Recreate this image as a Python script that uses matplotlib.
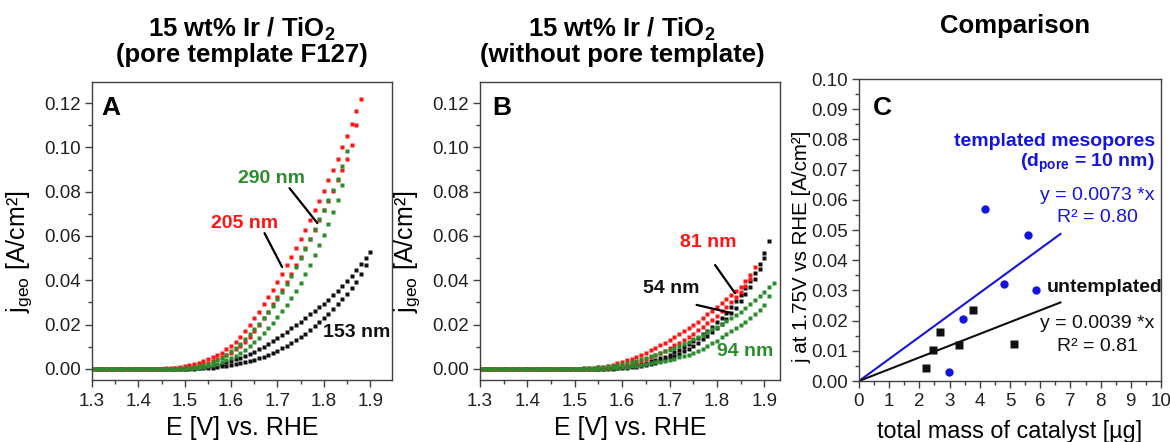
import numpy as np
import matplotlib
matplotlib.use("Agg")
import matplotlib.pyplot as plt
from matplotlib.ticker import MultipleLocator, FormatStrFormatter

plt.rcParams['font.family'] = ['Liberation Sans', 'DejaVu Sans']
plt.rcParams['mathtext.fontset'] = 'custom'
plt.rcParams['mathtext.rm'] = 'Liberation Sans'
plt.rcParams['mathtext.bf'] = 'Liberation Sans:bold'
plt.rcParams['mathtext.it'] = 'Liberation Sans:italic'

RED = '#ff1414'
GREEN = '#2b8c2b'
BLACK = '#101010'
BLUE = '#1414e0'
SPINE = '#404040'

# Potential grid of the sweeps (V vs. RHE), 10 mV steps starting at 1.30 V
E_SWEEP = np.round(1.30 + 0.01 * np.arange(63), 2)

# ---- Panel A: 15 wt% Ir / TiO2 with F127 pore template (current density, A/cm2)
A_205_UP = [
    0.0, 0.0, 0.0, 0.0, 0.0, 0.0, 0.0, 0.0, 0.0, 0.0,
    0.0, 0.0, 0.0, 0.0, 0.0, 0.0001, 0.0002, 0.0003, 0.0005, 0.0008,
    0.0012, 0.0016, 0.0022, 0.0028, 0.0035, 0.0043, 0.0052, 0.0062, 0.0074, 0.0088,
    0.0104, 0.0123, 0.0145, 0.0170, 0.0198, 0.0228, 0.0259, 0.0291, 0.0324, 0.0358,
    0.0393, 0.0429, 0.0467, 0.0506, 0.0546, 0.0587, 0.0629, 0.0672, 0.0716, 0.0760,
    0.0805, 0.0851, 0.0899, 0.0949, 0.1000, 0.1052, 0.1106, 0.1162, 0.1220]
A_205_DOWN = [
    0.0, 0.0, 0.0, 0.0, 0.0, 0.0, 0.0, 0.0, 0.0, 0.0,
    0.0, 0.0, 0.0, 0.0, 0.0, 0.0, 0.0, 0.0001, 0.0002, 0.0003,
    0.0005, 0.0008, 0.0012, 0.0016, 0.0022, 0.0028, 0.0035, 0.0043, 0.0052, 0.0062,
    0.0074, 0.0088, 0.0104, 0.0123, 0.0145, 0.0170, 0.0198, 0.0228, 0.0259, 0.0291,
    0.0324, 0.0358, 0.0393, 0.0429, 0.0467, 0.0506, 0.0546, 0.0587, 0.0629, 0.0672,
    0.0716, 0.0760, 0.0805, 0.0851, 0.0899, 0.0949, 0.1010, 0.1100]
A_290_UP = [
    0.0, 0.0, 0.0, 0.0, 0.0, 0.0, 0.0, 0.0, 0.0, 0.0,
    0.0, 0.0, 0.0, 0.0, 0.0, 0.0, 0.0, 0.0, 0.0001, 0.0002,
    0.0004, 0.0006, 0.0009, 0.0013, 0.0018, 0.0024, 0.0031, 0.0039, 0.0050, 0.0064,
    0.0080, 0.0096, 0.0114, 0.0134, 0.0156, 0.0179, 0.0203, 0.0228, 0.0255, 0.0284,
    0.0315, 0.0348, 0.0383, 0.0420, 0.0459, 0.0500, 0.0543, 0.0587, 0.0631, 0.0675,
    0.0719, 0.0763, 0.0808, 0.0858, 0.0915, 0.0985]
A_290_DOWN = [
    0.0, 0.0, 0.0, 0.0, 0.0, 0.0, 0.0, 0.0, 0.0, 0.0,
    0.0, 0.0, 0.0, 0.0, 0.0, 0.0, 0.0, 0.0, 0.0, 0.0,
    0.0001, 0.0002, 0.0004, 0.0006, 0.0009, 0.0013, 0.0018, 0.0024, 0.0031, 0.0039,
    0.0048, 0.0059, 0.0072, 0.0087, 0.0103, 0.0120, 0.0139, 0.0160, 0.0183, 0.0208,
    0.0235, 0.0262, 0.0290, 0.0320, 0.0352, 0.0388, 0.0427, 0.0468, 0.0512, 0.0558,
    0.0606, 0.0656, 0.0708, 0.0762, 0.0830]
A_153_UP = [
    0.0, 0.0, 0.0, 0.0, 0.0, 0.0, 0.0, 0.0, 0.0, 0.0,
    0.0, 0.0, 0.0, 0.0, 0.0, 0.0, 0.0, 0.0, 0.0, 0.0,
    0.0001, 0.0002, 0.0003, 0.0005, 0.0007, 0.0010, 0.0014, 0.0019, 0.0024, 0.0030,
    0.0036, 0.0043, 0.0050, 0.0058, 0.0067, 0.0077, 0.0088, 0.0100, 0.0113, 0.0126,
    0.0140, 0.0154, 0.0168, 0.0183, 0.0198, 0.0214, 0.0230, 0.0246, 0.0262, 0.0278,
    0.0295, 0.0313, 0.0332, 0.0352, 0.0373, 0.0396, 0.0421, 0.0447, 0.0474, 0.0502,
    0.0528]
A_153_DOWN = [
    0.0, 0.0, 0.0, 0.0, 0.0, 0.0, 0.0, 0.0, 0.0, 0.0,
    0.0, 0.0, 0.0, 0.0, 0.0, 0.0, 0.0, 0.0, 0.0, 0.0,
    0.0, 0.0, 0.0001, 0.0002, 0.0003, 0.0004, 0.0006, 0.0008, 0.0011, 0.0014,
    0.0017, 0.0021, 0.0025, 0.0030, 0.0035, 0.0041, 0.0048, 0.0056, 0.0064, 0.0073,
    0.0083, 0.0094, 0.0105, 0.0117, 0.0130, 0.0144, 0.0159, 0.0175, 0.0192, 0.0210,
    0.0229, 0.0249, 0.0270, 0.0292, 0.0315, 0.0340, 0.0366, 0.0394, 0.0428, 0.0470]

# ---- Panel B: 15 wt% Ir / TiO2 without pore template
B_54_UP = [
    0.0, 0.0, 0.0, 0.0, 0.0, 0.0, 0.0, 0.0, 0.0, 0.0,
    0.0, 0.0, 0.0, 0.0, 0.0, 0.0, 0.0, 0.0, 0.0, 0.0,
    0.0, 0.0, 0.0, 0.0, 0.0, 0.0, 0.0001, 0.0002, 0.0004, 0.0006,
    0.0008, 0.0011, 0.0015, 0.0019, 0.0023, 0.0028, 0.0034, 0.0041, 0.0048, 0.0056,
    0.0065, 0.0075, 0.0086, 0.0098, 0.0111, 0.0125, 0.0140, 0.0156, 0.0173, 0.0191,
    0.0210, 0.0231, 0.0254, 0.0279, 0.0306, 0.0335, 0.0366, 0.0399, 0.0434, 0.0472,
    0.0522, 0.0578]
B_54_DOWN = [
    0.0, 0.0, 0.0, 0.0, 0.0, 0.0, 0.0, 0.0, 0.0, 0.0,
    0.0, 0.0, 0.0, 0.0, 0.0, 0.0, 0.0, 0.0, 0.0, 0.0,
    0.0, 0.0, 0.0, 0.0, 0.0, 0.0, 0.0, 0.0, 0.0001, 0.0002,
    0.0003, 0.0005, 0.0007, 0.0010, 0.0013, 0.0017, 0.0022, 0.0028, 0.0035, 0.0042,
    0.0050, 0.0059, 0.0069, 0.0080, 0.0092, 0.0105, 0.0119, 0.0134, 0.0150, 0.0167,
    0.0185, 0.0205, 0.0227, 0.0251, 0.0277, 0.0305, 0.0336, 0.0370, 0.0408, 0.0452,
    0.0500]
B_81_UP = [
    0.0, 0.0, 0.0, 0.0, 0.0, 0.0, 0.0, 0.0, 0.0, 0.0,
    0.0, 0.0, 0.0, 0.0, 0.0, 0.0, 0.0, 0.0, 0.0, 0.0,
    0.0, 0.0001, 0.0002, 0.0003, 0.0005, 0.0007, 0.0010, 0.0014, 0.0019, 0.0025,
    0.0032, 0.0039, 0.0047, 0.0055, 0.0064, 0.0074, 0.0084, 0.0095, 0.0106, 0.0118,
    0.0130, 0.0143, 0.0156, 0.0170, 0.0184, 0.0199, 0.0214, 0.0230, 0.0246, 0.0263,
    0.0280, 0.0298, 0.0316, 0.0334, 0.0352, 0.0371, 0.0395, 0.0425, 0.0460]
B_81_DOWN = [
    0.0, 0.0, 0.0, 0.0, 0.0, 0.0, 0.0, 0.0, 0.0, 0.0,
    0.0, 0.0, 0.0, 0.0, 0.0, 0.0, 0.0, 0.0, 0.0, 0.0,
    0.0, 0.0, 0.0, 0.0, 0.0001, 0.0002, 0.0003, 0.0005, 0.0007, 0.0010,
    0.0014, 0.0019, 0.0025, 0.0031, 0.0038, 0.0046, 0.0054, 0.0063, 0.0073, 0.0083,
    0.0094, 0.0106, 0.0118, 0.0131, 0.0145, 0.0159, 0.0174, 0.0190, 0.0206, 0.0223,
    0.0241, 0.0260, 0.0280, 0.0301, 0.0323, 0.0347, 0.0373, 0.0408]
B_94_UP = [
    0.0, 0.0, 0.0, 0.0, 0.0, 0.0, 0.0, 0.0, 0.0, 0.0,
    0.0, 0.0, 0.0, 0.0, 0.0, 0.0, 0.0, 0.0, 0.0, 0.0,
    0.0, 0.0001, 0.0002, 0.0003, 0.0005, 0.0007, 0.0009, 0.0012, 0.0015, 0.0019,
    0.0023, 0.0028, 0.0033, 0.0038, 0.0044, 0.0050, 0.0057, 0.0064, 0.0071, 0.0079,
    0.0087, 0.0095, 0.0104, 0.0113, 0.0123, 0.0133, 0.0144, 0.0155, 0.0166, 0.0178,
    0.0190, 0.0203, 0.0216, 0.0230, 0.0244, 0.0259, 0.0275, 0.0292, 0.0310, 0.0329,
    0.0349, 0.0369, 0.0388]
B_94_DOWN = [
    0.0, 0.0, 0.0, 0.0, 0.0, 0.0, 0.0, 0.0, 0.0, 0.0,
    0.0, 0.0, 0.0, 0.0, 0.0, 0.0, 0.0, 0.0, 0.0, 0.0,
    0.0, 0.0, 0.0, 0.0, 0.0, 0.0, 0.0001, 0.0002, 0.0003, 0.0005,
    0.0007, 0.0009, 0.0012, 0.0015, 0.0018, 0.0021, 0.0025, 0.0029, 0.0033, 0.0037,
    0.0042, 0.0047, 0.0052, 0.0058, 0.0065, 0.0073, 0.0082, 0.0092, 0.0103, 0.0115,
    0.0128, 0.0142, 0.0156, 0.0170, 0.0184, 0.0198, 0.0213, 0.0229, 0.0246, 0.0266,
    0.0290, 0.0330]

# ---- Panel C: current at 1.75 V vs. catalyst mass
TEMPLATED_MASS = [4.17, 5.58, 4.81, 5.87, 3.44, 2.99]
TEMPLATED_J = [0.0570, 0.0484, 0.0322, 0.0302, 0.0206, 0.0029]
UNTEMPLATED_MASS = [2.21, 2.45, 2.69, 3.32, 3.77, 5.12]
UNTEMPLATED_J = [0.0043, 0.0103, 0.0163, 0.0120, 0.0234, 0.0123]
SLOPE_TEMPLATED = 0.0073
SLOPE_UNTEMPLATED = 0.0039
FIT_MASS_RANGE = [0.0, 6.67]

fig = plt.figure(figsize=(11.70, 4.42), dpi=100)
W, H = 1170.0, 442.0


def box(l, t, r, b):
    return [l / W, 1 - b / H, (r - l) / W, (b - t) / H]


axA = fig.add_axes(box(92, 82, 392, 380))
axB = fig.add_axes(box(480, 82, 780, 380))
axC = fig.add_axes(box(859, 79, 1161, 381))


def style(ax, xmaj, xmin, ymaj, ymin, xfmt, yfmt):
    ax.xaxis.set_major_locator(MultipleLocator(xmaj))
    ax.xaxis.set_minor_locator(MultipleLocator(xmin))
    ax.yaxis.set_major_locator(MultipleLocator(ymaj))
    ax.yaxis.set_minor_locator(MultipleLocator(ymin))
    ax.xaxis.set_major_formatter(FormatStrFormatter(xfmt))
    ax.yaxis.set_major_formatter(FormatStrFormatter(yfmt))
    ax.tick_params(which='both', direction='out', top=False, right=False,
                   color=SPINE, width=1.0, labelsize=13.5, labelcolor='#202020')
    ax.tick_params(which='major', length=5, pad=3)
    ax.tick_params(which='minor', length=3)
    ax.tick_params(axis='x', which='major', pad=4)
    for s in ax.spines.values():
        s.set_color(SPINE)
        s.set_linewidth(1.0)


def sweep(ax, vals, color):
    ax.plot(E_SWEEP[:len(vals)], vals, ls='none', marker='s', ms=2.8,
            mec='none', mfc=color)


# Panel A
for vals, c in [(A_153_UP, BLACK), (A_153_DOWN, BLACK), (A_205_UP, RED),
                (A_205_DOWN, RED), (A_290_UP, GREEN), (A_290_DOWN, GREEN)]:
    sweep(axA, vals, c)
axA.set_xlim(1.3, 1.947)
axA.set_ylim(-0.005, 0.1295)
style(axA, 0.1, 0.05, 0.02, 0.01, '%.1f', '%.2f')

# Panel B
for vals, c in [(B_54_UP, BLACK), (B_54_DOWN, BLACK), (B_81_UP, RED),
                (B_81_DOWN, RED), (B_94_UP, GREEN), (B_94_DOWN, GREEN)]:
    sweep(axB, vals, c)
axB.set_xlim(1.3, 1.933)
axB.set_ylim(-0.005, 0.1295)
style(axB, 0.1, 0.05, 0.02, 0.01, '%.1f', '%.2f')

for ax in (axA, axB):
    ax.set_xlabel('E [V] vs. RHE', fontsize=18, labelpad=5)
    ax.set_ylabel(r'j$_\mathrm{geo}$ [A/cm²]', fontsize=18)
    ax.yaxis.set_label_coords(-0.193, 0.43)

lab = dict(fontsize=14, fontweight='bold', ha='center', va='center')
axA.text(1.687, 0.0861, '290 nm', color=GREEN, **lab)
axA.text(1.628, 0.0658, '205 nm', color=RED, **lab)
axA.text(1.871, 0.0163, '153 nm', color=BLACK, **lab)
conn = dict(arrowstyle='-', color='black', lw=1.6, shrinkA=0, shrinkB=0)
axA.annotate('', xy=(1.786, 0.0658), xytext=(1.726, 0.0816), arrowprops=conn)
axA.annotate('', xy=(1.710, 0.0460), xytext=(1.672, 0.0613), arrowprops=conn)

axB.text(1.782, 0.0572, '81 nm', color=RED, **lab)
axB.text(1.704, 0.0364, '54 nm', color=BLACK, **lab)
axB.text(1.859, 0.0079, '94 nm', color=GREEN, **lab)
axB.annotate('', xy=(1.838, 0.0342), xytext=(1.796, 0.0469), arrowprops=conn)
axB.annotate('', xy=(1.831, 0.0252), xytext=(1.757, 0.0289), arrowprops=conn)

# Panel C
fit_x = np.array(FIT_MASS_RANGE)
axC.plot(fit_x, SLOPE_TEMPLATED * fit_x, color=BLUE, lw=1.5)
axC.plot(fit_x, SLOPE_UNTEMPLATED * fit_x, color=BLACK, lw=1.5)
axC.plot(TEMPLATED_MASS, TEMPLATED_J, ls='none', marker='o', ms=6.0,
         mec='none', mfc=BLUE)
axC.plot(UNTEMPLATED_MASS, UNTEMPLATED_J, ls='none', marker='s', ms=5.2,
         mec='none', mfc=BLACK)
axC.set_xlim(0, 10)
axC.set_ylim(0, 0.10)
style(axC, 1, 0.5, 0.01, 0.005, '%d', '%.2f')
axC.set_xlabel('total mass of catalyst [µg]', fontsize=16.8, labelpad=7)
axC.set_ylabel('j at 1.75V vs RHE [A/cm²]', fontsize=14.8)
axC.yaxis.set_label_coords(-0.156, 0.444)

axC.text(9.80, 0.0792, 'templated mesopores', color=BLUE, fontsize=14,
         fontweight='bold', ha='right', va='center')
axC.text(9.80, 0.0721, r'(d$_\mathbf{pore}$ = 10 nm)', color=BLUE, fontsize=14,
         fontweight='bold', ha='right', va='center')
axC.text(7.88, 0.0613, 'y = %.4f *x' % SLOPE_TEMPLATED, color=BLUE, fontsize=14,
         ha='center', va='center')
axC.text(7.88, 0.0540, 'R² = 0.80', color=BLUE, fontsize=14,
         ha='center', va='center')
axC.text(6.21, 0.0310, 'untemplated', color=BLACK, fontsize=14,
         fontweight='bold', ha='left', va='center')
axC.text(7.88, 0.0191, 'y = %.4f *x' % SLOPE_UNTEMPLATED, color=BLACK, fontsize=14,
         ha='center', va='center')
axC.text(7.88, 0.0114, 'R² = 0.81', color=BLACK, fontsize=14,
         ha='center', va='center')

# Panel letters
for ax, letter, fx, fy in [(axA, 'A', 0.032, 0.889), (axB, 'B', 0.042, 0.889),
                           (axC, 'C', 0.045, 0.881)]:
    ax.text(fx, fy, letter, transform=ax.transAxes, fontsize=19,
            fontweight='bold', ha='left', va='baseline')

# Column titles
tt = dict(fontsize=18.5, fontweight='bold', ha='center', va='baseline')
fig.text(241.7 / W, 1 - 36.7 / H, r'15 wt% Ir / TiO$_\mathbf{2}$', **tt)
fig.text(241.7 / W, 1 - 61.7 / H, '(pore template F127)', **tt)
fig.text(622 / W, 1 - 36.7 / H, r'15 wt% Ir / TiO$_\mathbf{2}$', **tt)
fig.text(622 / W, 1 - 61.7 / H, '(without pore template)', **tt)
fig.text(1015 / W, 1 - 33 / H, 'Comparison', **tt)

fig.savefig('out.png', dpi=100)
